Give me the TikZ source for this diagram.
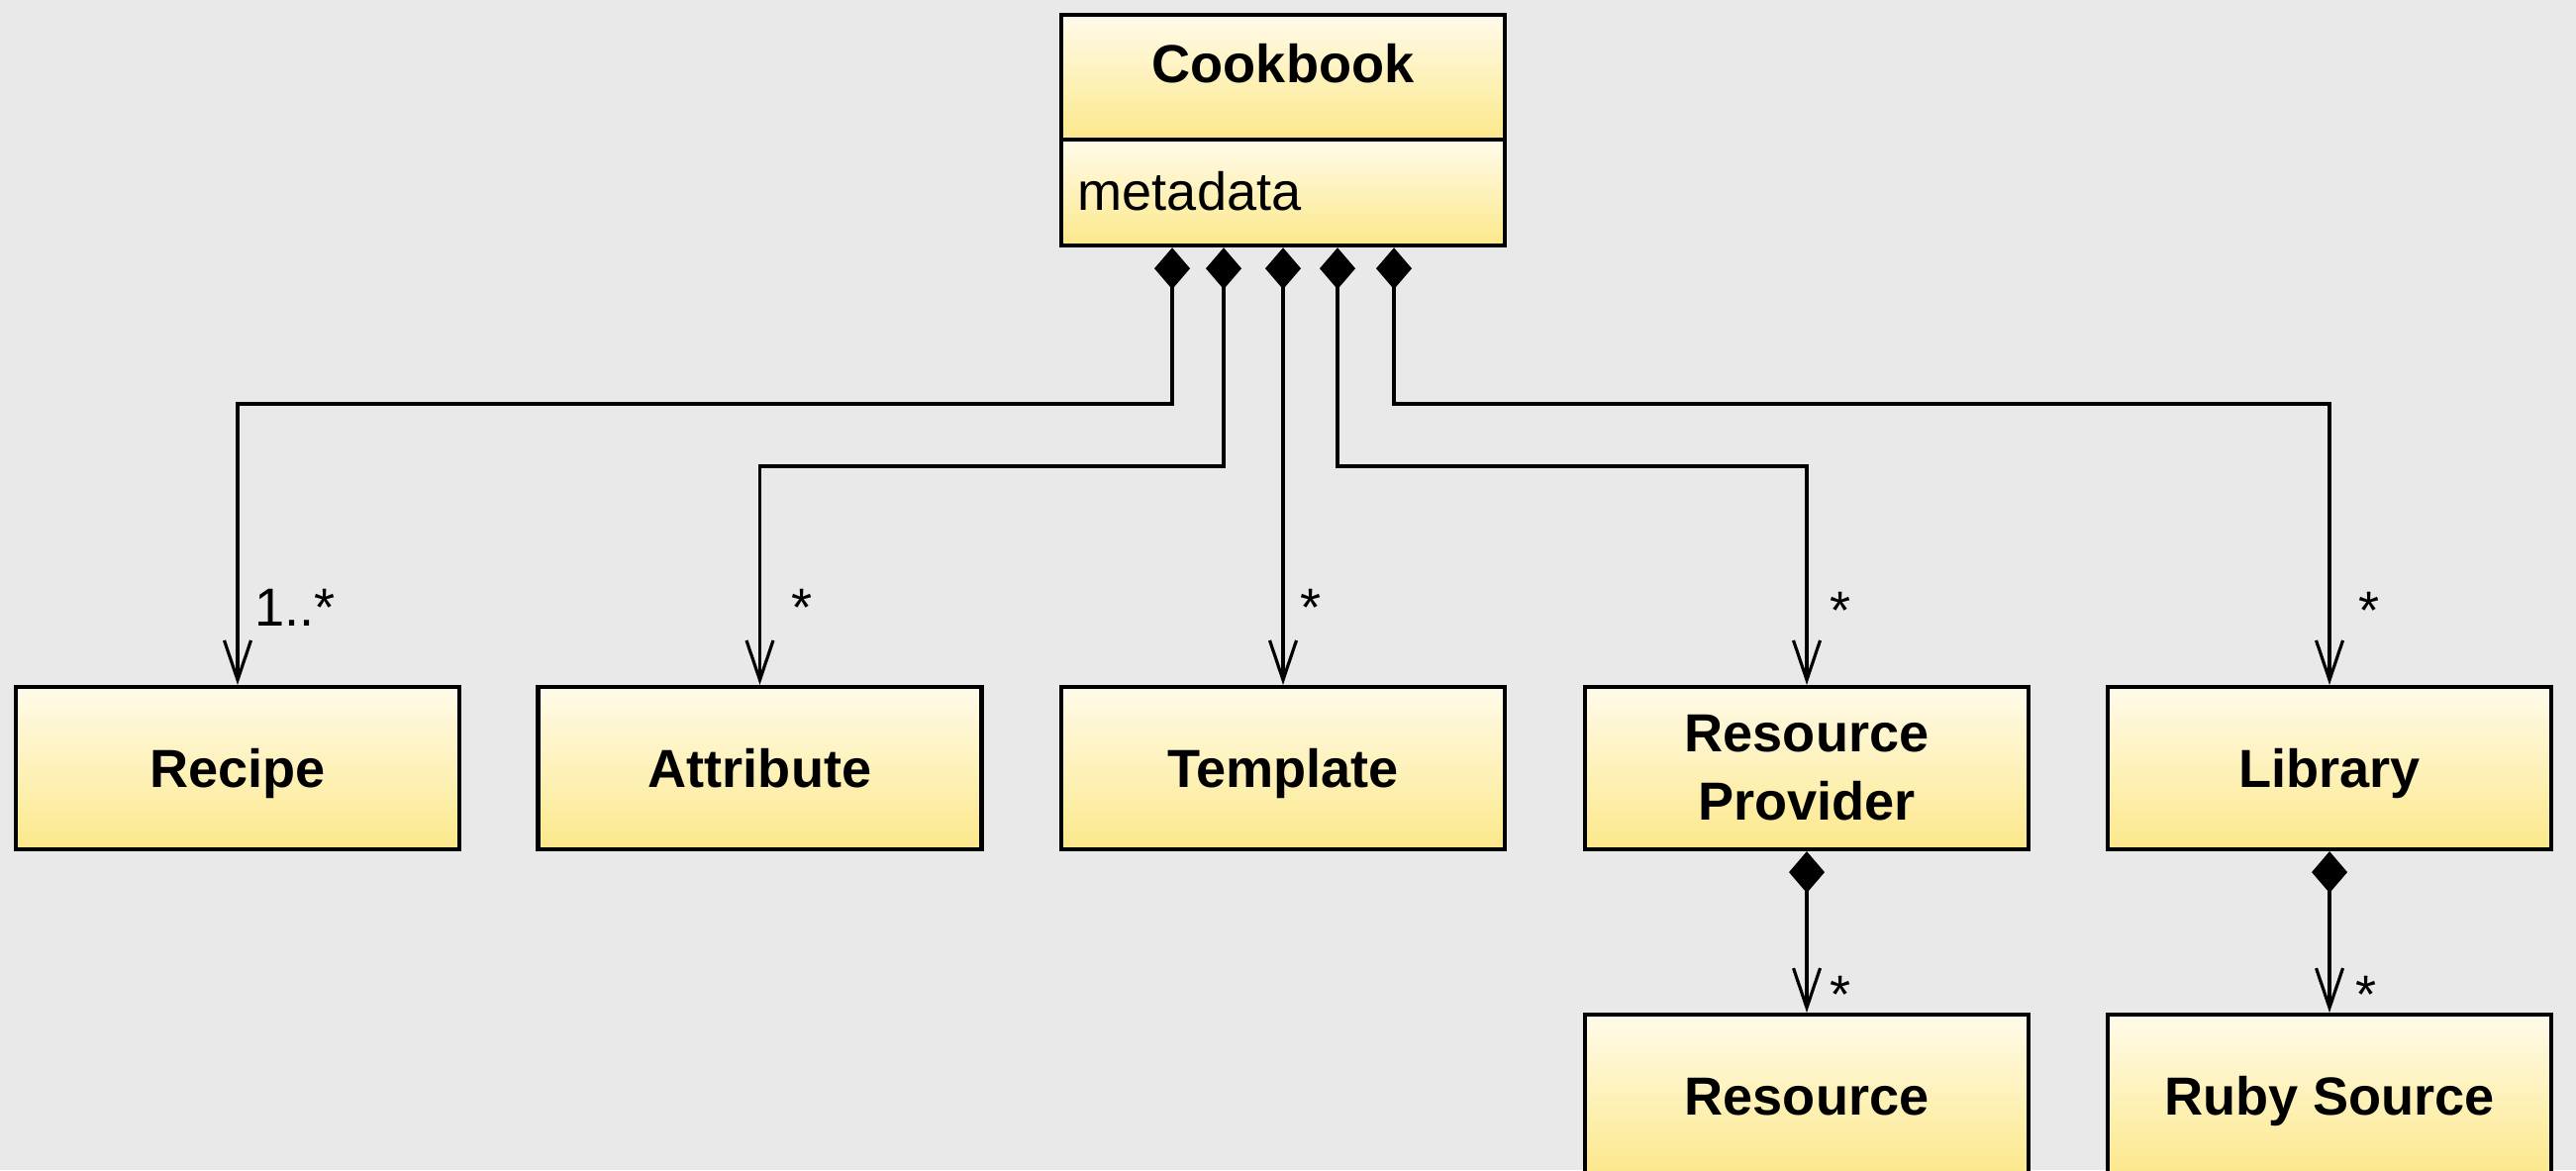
\documentclass[tikz,border=0pt]{standalone}
\usepackage{fontspec}
\setmainfont{Liberation Sans}
\usetikzlibrary{arrows.meta,calc}
\definecolor{bg}{RGB}{233,233,233}
\definecolor{ytop}{RGB}{255,251,234}
\definecolor{ybot}{RGB}{252,232,138}
\tikzset{
  umlbox/.style={draw=black, line width=1.2pt, top color=ytop, bottom color=ybot,
    minimum width=4.48cm, minimum height=1.64cm, inner sep=0pt, align=center,
    text height=0.39cm, text depth=0pt,
    font=\fontsize{15.4pt}{19.6pt}\selectfont\bfseries},
  conn/.style={line width=0.9pt},
  comp/.style={conn, {Diamond[length=0.42cm,width=0.36cm]}-{Straight Barb[length=0.4cm,width=0.27cm]}},
  mult/.style={font=\fontsize{15.4pt}{18pt}\selectfont, inner sep=0pt, anchor=base}
}
\begin{document}
\begin{tikzpicture}
\fill[bg] (0,0) rectangle (26.02,11.82);
\useasboundingbox (0,0) rectangle (26.02,11.82);

% Cookbook class
\node[umlbox, minimum height=1.26cm, anchor=north] (cook) at (12.96,11.69) {};
\node[mult, anchor=base] (cooktitle) at (12.96,10.99) {\bfseries Cookbook};
\node[umlbox, minimum height=1.07cm, anchor=north] (meta) at (12.96,10.43) {};
\node[mult, anchor=base west] (metatext) at (10.88,9.70) {metadata};

% Row 1
\node[umlbox] (recipe) at (2.40,4.06) {Recipe};
\node[umlbox] (attr) at (7.675,4.06) {Attribute};
\node[umlbox] (tmpl) at (12.96,4.06) {Template};
\node[umlbox, text height=1.04cm] (rp) at (18.25,4.06) {Resource\\Provider};
\node[umlbox] (lib) at (23.53,4.06) {Library};

% Row 2
\node[umlbox, anchor=north] (res) at (18.25,1.59) {Resource};
\node[umlbox, anchor=north] (ruby) at (23.53,1.59) {Ruby Source};

% levels
\coordinate (lvA) at (0,7.74);
\coordinate (lvB) at (0,7.11);
\coordinate (d1) at ([xshift=-1.12cm]meta.south);
\coordinate (d2) at ([xshift=-0.60cm]meta.south);
\coordinate (d3) at (meta.south);
\coordinate (d4) at ([xshift=0.55cm]meta.south);
\coordinate (d5) at ([xshift=1.12cm]meta.south);

\draw[comp] (d1) -- (d1 |- lvA) -| (recipe.north);
\draw[comp] (d2) -- (d2 |- lvB) -| (attr.north);
\draw[comp] (d3) -- (tmpl.north);
\draw[comp] (d4) -- (d4 |- lvB) -| (rp.north);
\draw[comp] (d5) -- (d5 |- lvA) -| (lib.north);
\draw[comp] (rp.south) -- (res.north);
\draw[comp] (lib.south) -- (ruby.north);

% multiplicities
\node[mult, anchor=base west] (m1) at ($(recipe.north)+(0.17,0.59)$) {1..*};
\node[mult] (m2) at ($(attr.north)+(0.43,0.59)$) {*};
\node[mult] (m3) at ($(tmpl.north)+(0.28,0.59)$) {*};
\node[mult] (m4) at ($(rp.north)+(0.34,0.56)$) {*};
\node[mult] (m5) at ($(lib.north)+(0.40,0.56)$) {*};
\node[mult] (m6) at ($(res.north)+(0.34,0.0)$) {*};
\node[mult] (m7) at ($(ruby.north)+(0.37,0.0)$) {*};
\end{tikzpicture}
\end{document}
